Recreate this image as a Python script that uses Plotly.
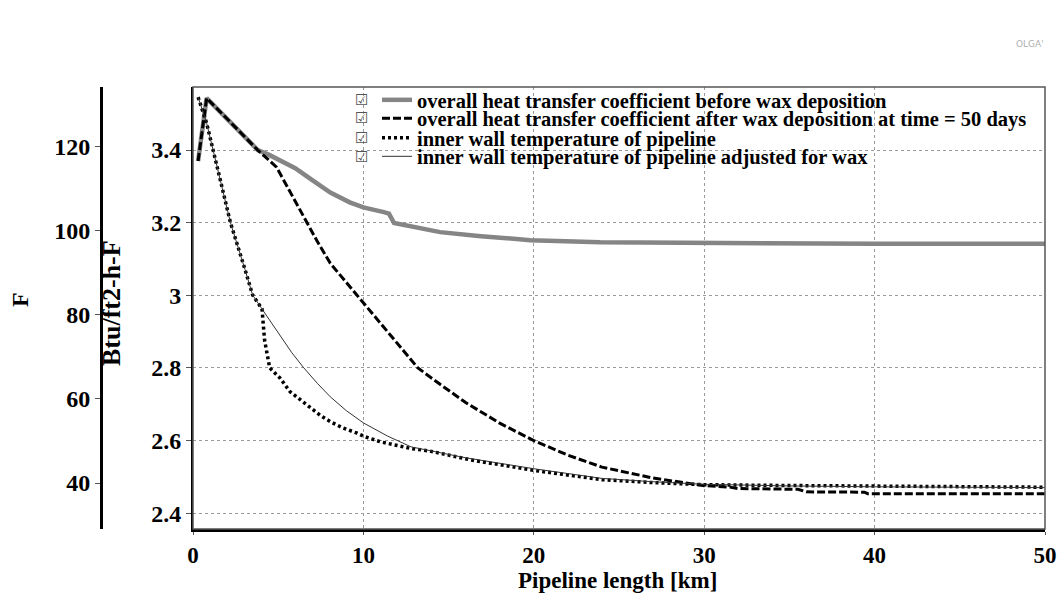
import plotly.graph_objects as go

# ---------------- data ----------------
km_before = [0.3, 0.8, 2.0, 3.0, 3.8, 4.5, 5.1, 6.0, 7.0, 8.06, 9.2, 10.0, 11.2, 11.5, 11.8,
             12.8, 14.5, 16.9, 19.8, 23.9, 27.0, 30.0, 35.0, 40.0, 45.0, 50.0]
u_before = [3.37, 3.543, 3.486, 3.438, 3.40, 3.386, 3.372, 3.35, 3.317, 3.283, 3.256, 3.242, 3.229, 3.225, 3.199,
            3.19, 3.174, 3.163, 3.152, 3.146, 3.145, 3.143, 3.142, 3.142, 3.142, 3.142]

km_after = [0.3, 0.8, 2.0, 3.0, 3.8, 4.9, 5.7, 6.5, 7.3, 8.06, 9.0, 10.0, 11.0, 12.0, 13.2, 14.5,
            16.0, 18.0, 20.0, 22.0, 24.0, 27.0, 30.0, 31.5, 32.0, 35.5, 36.0, 39.4, 39.6, 45.0, 50.0]
u_after = [3.37, 3.543, 3.486, 3.438, 3.40, 3.353, 3.285, 3.215, 3.148, 3.088, 3.035, 2.98, 2.922, 2.865, 2.80, 2.755,
           2.705, 2.648, 2.60, 2.56, 2.527, 2.497, 2.476, 2.472, 2.468, 2.466, 2.459, 2.458, 2.454, 2.454, 2.454]

km_wall = [0.3, 0.8, 1.5, 2.2, 3.06, 3.5, 4.05, 4.2, 4.5, 5.1, 5.7, 6.3, 6.9, 7.5, 8.1, 8.8,
           9.6, 10.1, 11.0, 12.8, 13.9, 16.3, 20.0, 24.0, 27.0, 30.0, 35.0, 40.0, 45.0, 50.0]
t_wall = [131.8, 125.6, 113.8, 101.9, 90.7, 84.7, 81.4, 74.0, 67.4, 65.0, 61.7, 59.8, 57.9, 56.0, 54.5, 53.1,
          51.9, 51.0, 49.8, 48.2, 47.6, 45.5, 43.0, 40.8, 40.1, 39.6, 39.4, 39.2, 39.0, 39.0]

km_wax = [0.3, 0.8, 1.5, 2.2, 3.06, 3.5, 4.05, 4.6, 5.1, 5.8, 6.5, 7.3, 8.06, 9.0, 10.0, 11.4, 12.8,
          14.0, 16.0, 20.0, 24.0, 27.0, 30.0, 35.0, 40.0, 50.0]
t_wax = [131.8, 125.6, 113.8, 101.9, 90.7, 84.7, 81.4, 78.2, 75.2, 71.0, 67.4, 63.7, 60.5, 57.2, 54.3, 51.2, 48.6,
         47.6, 46.0, 43.4, 41.1, 40.3, 39.7, 39.3, 39.1, 38.9]

names = [
    "overall heat transfer coefficient before wax deposition",
    "overall heat transfer coefficient after wax deposition at time = 50 days",
    "inner wall temperature of pipeline",
    "inner wall temperature of pipeline adjusted for wax",
]

x_ticks = [0, 10, 20, 30, 40, 50]
u_ticks = [2.4, 2.6, 2.8, 3.0, 3.2, 3.4]
u_ticktext = ["2.4", "2.6", "2.8", "3", "3.2", "3.4"]
t_ticks = [40, 60, 80, 100, 120]

# ---------------- figure ----------------
SERIF = "Liberation Serif"
W, H = 1063, 593
ML, MR, MT, MB = 0, 18, 87, 64
PW, PH = W - ML - MR, H - MT - MB


def px_x(p):
    return (p - ML) / PW


def px_y(p):
    return 1 - (p - MT) / PH


legend_ids = ["legend", "legend2", "legend3", "legend4"]
row_y = [100, 118.5, 138, 156.5]

fig = go.Figure()
fig.add_trace(go.Scatter(x=km_before, y=u_before, name=names[0], mode="lines", legend=legend_ids[0],
                         line=dict(color="#858585", width=4.5), yaxis="y"))
fig.add_trace(go.Scatter(x=km_after, y=u_after, name=names[1], mode="lines", legend=legend_ids[1],
                         line=dict(color="black", width=3, dash="8px,3px"), yaxis="y"))
fig.add_trace(go.Scatter(x=km_wall, y=t_wall, name=names[2], mode="lines", legend=legend_ids[2],
                         line=dict(color="black", width=3.5, dash="3px,3px"), yaxis="y2"))
fig.add_trace(go.Scatter(x=km_wax, y=t_wax, name=names[3], mode="lines", legend=legend_ids[3],
                         line=dict(color="#333333", width=1), yaxis="y2"))

tickfont = dict(family=SERIF, size=24, color="black", weight="bold")
xtickfont = dict(family=SERIF, size=23, color="black", weight="bold")
legfont = dict(family=SERIF, size=20.5, color="black", weight="bold")

layout_legends = {}
for lid, ry in zip(legend_ids, row_y):
    layout_legends[lid] = dict(x=px_x(377), y=px_y(ry), xanchor="left", yanchor="middle",
                               bgcolor="rgba(0,0,0,0)", borderwidth=0, font=legfont,
                               itemclick=False, itemdoubleclick=False)

fig.update_layout(
    width=W, height=H,
    margin=dict(l=ML, r=MR, t=MT, b=MB, autoexpand=False),
    paper_bgcolor="white", plot_bgcolor="white",
    font=dict(family=SERIF, color="black"),
    showlegend=True,
    xaxis=dict(domain=[px_x(193), 1], range=[0, 50], tickvals=x_ticks,
               showline=True, linewidth=3, linecolor="black",
               ticks="outside", ticklen=3, tickcolor="#555",
               showgrid=True, gridcolor="#9a9a9a", gridwidth=1, griddash="3px,3px",
               zeroline=False, tickfont=xtickfont),
    yaxis=dict(range=[2.3567, 3.5736], tickvals=u_ticks, ticktext=u_ticktext,
               showline=True, linewidth=2, linecolor="black",
               ticks="outside", ticklen=5, tickcolor="#555",
               showgrid=True, gridcolor="#9a9a9a", gridwidth=1, griddash="3px,3px",
               zeroline=False, tickfont=tickfont),
    yaxis2=dict(range=[29.06, 134.2], tickvals=t_ticks, overlaying="y", anchor="free",
                position=px_x(101), side="left",
                showline=True, linewidth=3, linecolor="black",
                ticks="outside", ticklen=5, tickcolor="#555",
                showgrid=False, zeroline=False, tickfont=tickfont),
    **layout_legends,
)

# frame around plot area (top/right thin)
fig.add_shape(type="rect", xref="x domain", yref="y domain", x0=0, x1=1, y0=0, y1=1,
              line=dict(color="#555", width=1.5), layer="above")

# axis titles as annotations
fig.add_annotation(text="Pipeline length [km]", x=px_x(617), y=px_y(580), xref="paper", yref="paper",
                   xanchor="center", yanchor="middle", showarrow=False,
                   font=dict(family=SERIF, size=23, color="black", weight="bold"))
fig.add_annotation(text="Btu/ft2-h-F", x=px_x(111), y=px_y(303), xref="paper", yref="paper",
                   xanchor="center", yanchor="middle", textangle=-90, showarrow=False,
                   font=dict(family=SERIF, size=26, color="black", weight="bold"))
fig.add_annotation(text="F", x=px_x(20), y=px_y(300), xref="paper", yref="paper",
                   xanchor="center", yanchor="middle", textangle=-90, showarrow=False,
                   font=dict(family=SERIF, size=24, color="black", weight="bold"))
# watermark
fig.add_annotation(text="OLGA'", x=px_x(1046), y=px_y(44), xref="paper", yref="paper",
                   xanchor="right", yanchor="middle", showarrow=False,
                   font=dict(family="DejaVu Sans", size=9, color="#b0b0b0"))
# legend check boxes
for ry in row_y:
    fig.add_annotation(text="\u2611", x=px_x(361), y=px_y(ry), xref="paper", yref="paper",
                       xanchor="center", yanchor="middle", showarrow=False,
                       font=dict(family="DejaVu Sans", size=15, color="#555"))

fig.write_html("out.html")
